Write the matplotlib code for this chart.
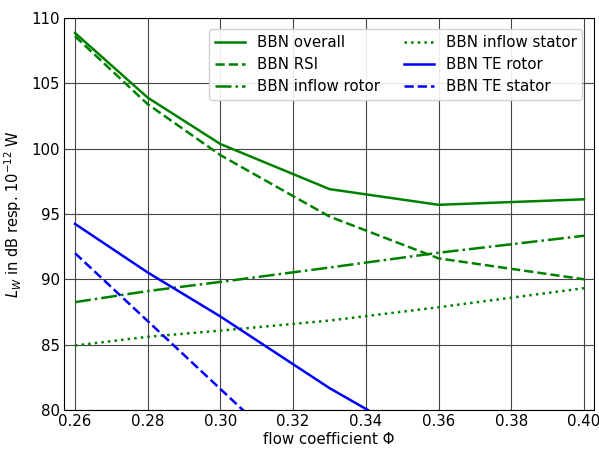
import matplotlib
matplotlib.use("Agg")
import matplotlib.pyplot as plt

phi = [0.26, 0.28, 0.30, 0.33, 0.36, 0.40]
bbn_overall = [108.85, 103.9, 100.35, 96.9, 95.7, 96.12]
bbn_rsi = [108.6, 103.4, 99.5, 94.8, 91.6, 90.0]
bbn_inflow_rotor = [88.25, 89.1, 89.8, 90.9, 92.03, 93.33]
bbn_inflow_stator = [84.93, 85.6, 86.07, 86.84, 87.86, 89.32]
bbn_te_rotor = [94.24, 90.52, 87.15, 81.67, 76.9, 71.0]
bbn_te_stator = [92.0, 86.8, 81.6, 73.8, 66.0, 56.0]

xticks = [0.26, 0.28, 0.30, 0.32, 0.34, 0.36, 0.38, 0.40]
yticks = [80, 85, 90, 95, 100, 105, 110]

fig = plt.figure(figsize=(5.99, 4.49), dpi=100)
ax = fig.add_axes([0.107, 0.087, 0.885, 0.873])

lw = 1.8
ax.plot(phi, bbn_overall, color='green', ls='-', lw=lw, label='BBN overall')
ax.plot(phi, bbn_rsi, color='green', ls='--', lw=lw, label='BBN RSI')
ax.plot(phi, bbn_inflow_rotor, color='green', ls='-.', lw=lw, label='BBN inflow rotor')
ax.plot(phi, bbn_inflow_stator, color='green', ls=':', lw=lw, label='BBN inflow stator')
ax.plot(phi, bbn_te_rotor, color='blue', ls='-', lw=lw, label='BBN TE rotor')
ax.plot(phi, bbn_te_stator, color='blue', ls='--', lw=lw, label='BBN TE stator')

ax.set_xlim(0.257, 0.4028)
ax.set_ylim(80, 110)
ax.set_xticks(xticks)
ax.set_xticklabels([f"{t:.2f}" for t in xticks])
ax.set_yticks(yticks)
ax.tick_params(direction='in', length=0, labelsize=10.8, pad=3)
ax.grid(True, color='#444444', lw=0.8)
ax.set_xlabel('flow coefficient Φ', fontsize=10.8, labelpad=2)
ax.set_ylabel(r'$L_W$ in dB resp. $10^{-12}$ W', fontsize=10.5, labelpad=5)
ax.legend(ncol=2, loc='upper right', fontsize=10.8, columnspacing=1.6,
          labelspacing=0.45, handlelength=2.0, framealpha=0.9,
          bbox_to_anchor=(0.992, 0.99))

fig.savefig('out.png', dpi=100)
